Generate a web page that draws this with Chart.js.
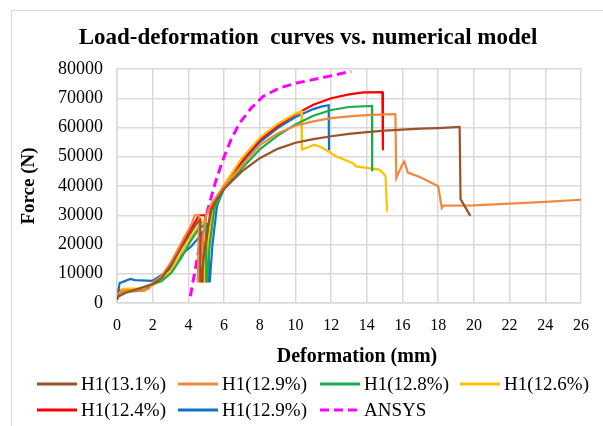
<!DOCTYPE html>
<html><head><meta charset="utf-8">
<script src="https://cdn.jsdelivr.net/npm/chart.js@4.4.0/dist/chart.umd.min.js"></script>
<style>html,body{margin:0;padding:0;background:#fff;overflow:hidden}#wrap{width:603px;height:426px;position:relative}</style>
</head><body><div id="wrap"><canvas id="c" width="603" height="426"></canvas></div>
<script>
// ---- data (deformation in mm, force in N) ----
const chartTitle = 'Load-deformation  curves vs. numerical model';
const xAxisTitle = 'Deformation (mm)';
const yAxisTitle = 'Force (N)';
const seriesLabels = ['H1(13.1%)', 'H1(12.9%)', 'H1(12.8%)', 'H1(12.6%)', 'H1(12.4%)', 'H1(12.9%)', 'ANSYS'];
const seriesColors = ['#9a5228', '#f0883e', '#1aad4b', '#ffc000', '#ff0000', '#1273c4', '#ff00ff'];
const xTicks = [0, 2, 4, 6, 8, 10, 12, 14, 16, 18, 20, 22, 24, 26];
const yTicks = [0, 10000, 20000, 30000, 40000, 50000, 60000, 70000, 80000];

const s1X = [0,0.5,1,2,2.5,3.05,3.6,4.17,4.5,4.67,4.67,4.72,4.9,5.1,5.3,5.6,6,7,8,9,10,11,12,13,14,15,16,17,18,19.2,19.25,19.8];
const s1Y = [2000,3500,4500,6500,8500,13100,18800,24500,27500,28500,7400,7400,18000,26000,32000,35500,39000,45000,49500,52700,54800,56000,57000,57800,58400,58900,59300,59600,59800,60200,35500,29800];

const s2X = [0,0.3,1.5,1.8,2,2.49,3.05,3.6,4.17,4.35,4.6,4.53,4.58,4.75,5.0,5.3,6,7,8,9,10,11,12,13,14,15,15.6,15.65,16.0,16.1,16.3,17,18.0,18.2,18.3,20,22,24,26];
const s2Y = [3000,4200,4200,5000,7000,9100,14200,20500,26800,30000,30000,7400,7400,20000,30000,34000,40000,47000,54000,58000,60600,62100,63200,63800,64200,64500,64600,42700,47500,48400,44600,43000,39900,32500,33300,33400,34000,34600,35300];

const s3X = [0,0.3,1.5,2,2.49,3.05,3.6,4.17,4.6,5.0,5.0,5.05,5.2,5.45,6,7,8,9,10,11,12,13,14.29,14.3];
const s3Y = [2500,3800,4200,6500,7400,10300,15400,21600,25500,27000,7400,7400,20000,32000,39000,46000,52500,57200,61000,64000,66000,67000,67400,45000];

const s4X = [0,0.3,1.5,2,2.49,3.05,3.6,4.17,4.6,4.91,4.91,4.96,5.1,5.35,6,7,8,9,10,10.33,10.36,11.07,11.54,12.3,13.2,13.4,14.7,15.05,15.13];
const s4Y = [2500,4800,5000,6000,8000,11400,17100,22800,26500,28500,7400,7400,20000,32000,40500,49500,56500,61200,64800,65600,52400,54100,53000,50100,47900,46700,45600,43500,31300];

const s5X = [0,0.15,1.3,1.75,2,2.49,3.05,3.6,4.17,4.6,4.95,4.78,4.82,5.0,5.25,6,7,8,9,10,11,12,13,13.8,14.87,14.9];
const s5Y = [1000,4300,4300,6000,6200,8500,13300,19400,25600,30000,30000,7400,7400,20000,32000,40000,48500,55800,60500,64500,67800,70000,71300,72000,72100,52200];

const s6X = [0,0.15,0.75,1.0,2,2.49,3.05,3.6,4.17,4.6,5.15,5.15,5.2,5.35,5.6,6,7,8,9,10,11,11.5,11.86,11.88];
const s6Y = [1500,6800,8200,7800,7600,9500,12000,16500,19400,22500,27500,7400,7400,20000,33000,39500,48000,55000,59800,63600,66300,67200,67600,52200];

const ansysX = [4.11,4.4,4.7,5.04,5.5,5.94,6.4,6.87,7.5,8.18,9.1,10.05,11.5,13.13];
const ansysY = [2300,12000,22000,30800,41000,49000,56000,61500,66500,70600,73500,75200,77000,79200];

// ---- build ----
const seriesX = [s1X, s2X, s3X, s4X, s5X, s6X, ansysX];
const seriesY = [s1Y, s2Y, s3Y, s4Y, s5Y, s6Y, ansysY];
const serif = "'Liberation Serif', 'Times New Roman', serif";

const datasets = seriesLabels.map((lab, i) => ({
  label: lab,
  data: seriesX[i].map((x, k) => ({x: x, y: seriesY[i][k]})),
  borderColor: seriesColors[i],
  backgroundColor: seriesColors[i],
  borderWidth: i === 6 ? 3 : 2.2,
  borderDash: i === 6 ? [9, 5] : [],
  pointRadius: 0,
  fill: false,
  tension: 0
}));

const decor = {
  id: 'decor',
  beforeDraw(chart) {
    const ctx = chart.ctx;
    ctx.save();
    ctx.fillStyle = '#fff';
    ctx.fillRect(0, 0, chart.width, chart.height);
    ctx.strokeStyle = '#d9d9d9';
    ctx.lineWidth = 1;
    ctx.strokeRect(11.5, 10.5, 800, 600);
    ctx.restore();
  },
  afterDraw(chart) {
    const ctx = chart.ctx;
    ctx.save();
    ctx.fillStyle = '#000';
    ctx.textAlign = 'center';
    ctx.textBaseline = 'middle';
    ctx.font = "bold 23px " + serif;
    ctx.fillText(chartTitle, 308, 38);
    ctx.font = "bold 20px " + serif;
    ctx.fillText(xAxisTitle, 357, 357);
    // legend
    const cols = [37, 178, 320, 460];
    const rows = [384, 410];
    ctx.font = "19px " + serif;
    ctx.textAlign = 'left';
    chart.data.datasets.forEach((ds, i) => {
      const cx = cols[i % 4], cy = rows[Math.floor(i / 4)];
      ctx.strokeStyle = ds.borderColor;
      ctx.lineWidth = 3;
      ctx.setLineDash(ds.borderDash && ds.borderDash.length ? [9, 5] : []);
      ctx.beginPath();
      ctx.moveTo(cx, cy);
      ctx.lineTo(cx + 40, cy);
      ctx.stroke();
      ctx.setLineDash([]);
      ctx.fillStyle = '#000';
      ctx.fillText(ds.label, cx + 44, cy + 1);
    });
    ctx.restore();
  }
};

Chart.defaults.color = '#000';
new Chart(document.getElementById('c'), {
  type: 'line',
  data: {datasets: datasets},
  options: {
    responsive: false,
    animation: false,
    layout: {padding: {left: 11, right: 22, top: 69, bottom: 54}},
    plugins: {legend: {display: false}, title: {display: false}, tooltip: {enabled: false}},
    scales: {
      x: {
        type: 'linear', min: 0, max: 26,
        afterBuildTicks: s => { s.ticks = xTicks.map(v => ({value: v})); },
        ticks: {font: {family: serif, size: 16}, color: '#000', padding: 13, maxRotation: 0},
        grid: {color: '#d9d9d9', lineWidth: 1.5, drawTicks: false},
        border: {color: '#d9d9d9', width: 1.5},
        afterFit: s => { s.height = 69; }
      },
      y: {
        type: 'linear', min: 0, max: 80000,
        afterBuildTicks: s => { s.ticks = yTicks.map(v => ({value: v})); },
        ticks: {font: {family: serif, size: 18}, color: '#000', padding: 14, callback: v => String(v)},
        grid: {color: '#d9d9d9', lineWidth: 1.5, drawTicks: false},
        border: {color: '#d9d9d9', width: 1.5},
        title: {display: true, text: yAxisTitle, font: {family: serif, size: 19, weight: 'bold'}, color: '#000', padding: {top: 7, bottom: 0}},
        afterFit: s => { s.width = 106; }
      }
    }
  },
  plugins: [decor]
});
</script></body></html>
